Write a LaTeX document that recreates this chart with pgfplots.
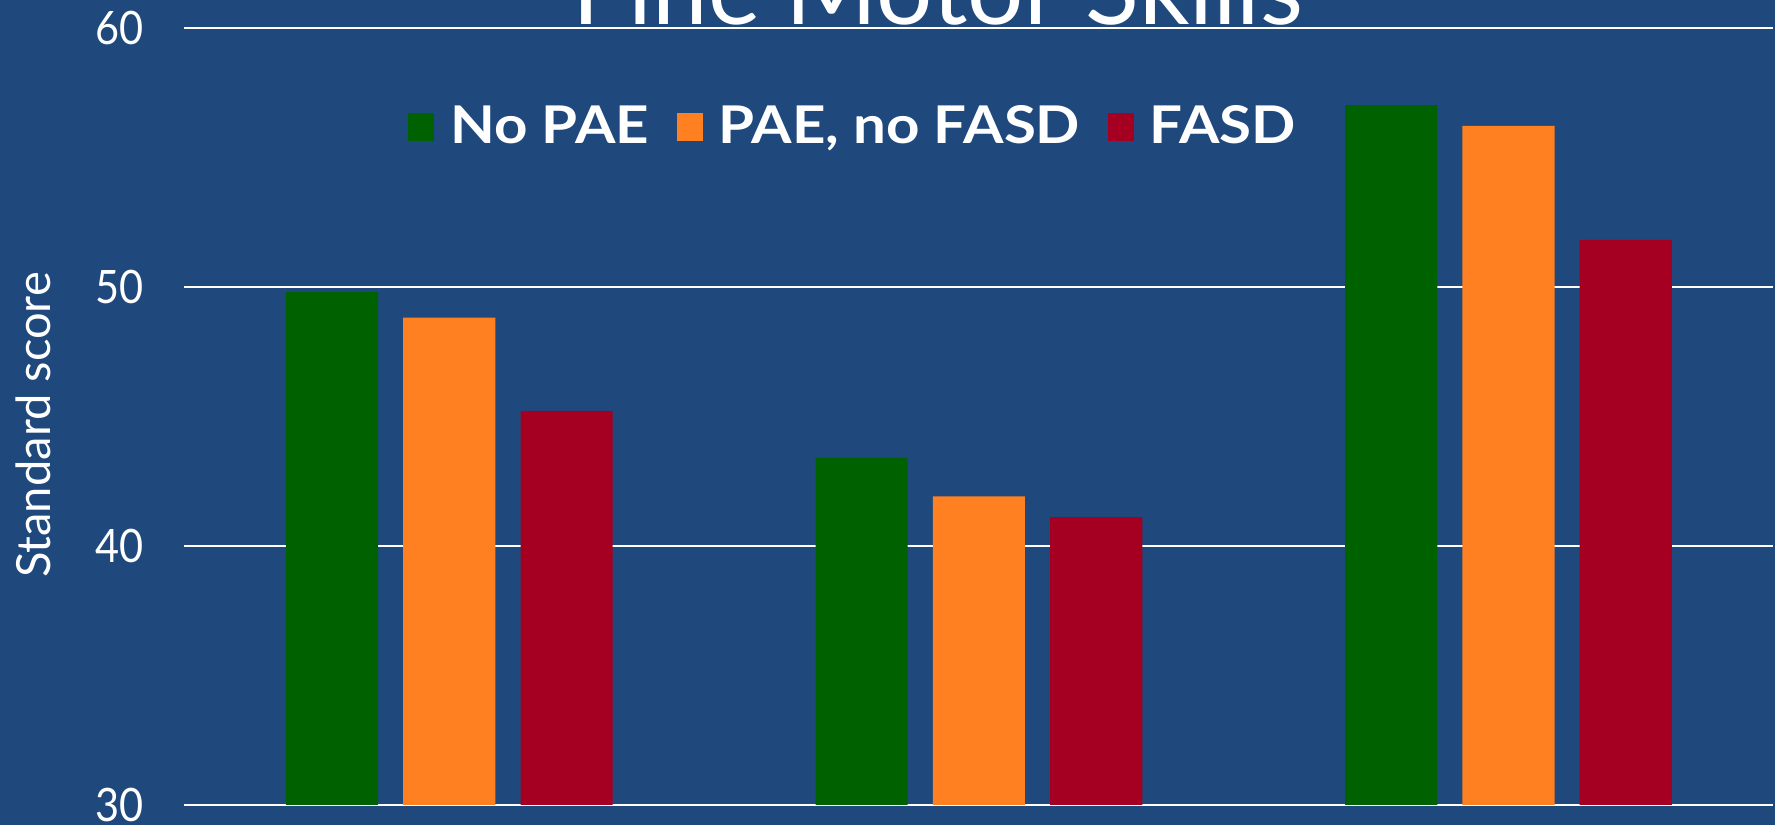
\documentclass[border=0pt]{standalone}
\usepackage{pgfplots}
\pgfplotsset{compat=1.18}
\usepackage{fontspec}
\setmainfont{Lato}
\newfontfamily\legfont[FakeStretch=1.12]{Lato}
\newfontfamily\tickfont[FakeStretch=0.9]{Lato}
\definecolor{bg}{HTML}{1F497D}
\definecolor{cgreen}{HTML}{006100}
\definecolor{corange}{HTML}{FF8021}
\definecolor{cred}{HTML}{A50021}
\begin{document}
\begin{tikzpicture}
\fill[bg] (-18.45mm,-2.02mm) rectangle (159.05mm,80.48mm);
\begin{axis}[
  at={(0,0)}, anchor=south west,
  scale only axis, width=158.88mm, height=77.73mm,
  xmin=-0.5, xmax=2.5, ymin=30, ymax=60,
  xtick=\empty, ytick={30,40,50,60},
  ymajorgrids, grid style={white, line width=0.2mm},
  axis line style={draw=none}, major tick length=0pt,
  /pgf/number format/assume math mode=true,
  yticklabel style={text=white, font=\tickfont\fontsize{13.1}{15}\selectfont, anchor=east, inner sep=0pt, xshift=-4.0mm},
  ylabel={Standard score},
  ylabel style={at={(axis description cs:-0.0843,0.4886)}, anchor=base, text=white, font=\fontsize{13.4}{16}\selectfont},
  title={Fine Motor Skills},
  every axis title shift=0pt,
  title style={at={(rel axis cs:0.4742,1.0045)}, anchor=base, yshift=0pt, text=white, font=\fontsize{28.3}{34}\selectfont},
  ybar, bar width=0.174,
  legend columns=3,
  legend style={at={(rel axis cs:0.1404,0.872)}, anchor=west, draw=none, fill=none, text=white,
    font=\legfont\bfseries\fontsize{14.8}{17}\selectfont, inner sep=0pt,
    column sep=0.9mm, /tikz/every even column/.append style={column sep=2.05mm}},
  legend image code/.code={\fill[#1] (0mm,-1.385mm) rectangle (2.6mm,1.385mm);},
]
\addplot[fill=cgreen, draw=none, bar shift=-0.2215] coordinates {(0,49.8) (1,43.4) (2,57.0)};
\addplot[fill=corange, draw=none, bar shift=0] coordinates {(0,48.8) (1,41.9) (2,56.2)};
\addplot[fill=cred, draw=none, bar shift=0.2215] coordinates {(0,45.2) (1,41.1) (2,51.8)};
\legend{No PAE, {PAE, no FASD}, FASD}
\end{axis}
\pgfresetboundingbox
\path[use as bounding box] (-18.45mm,-2.02mm) rectangle (159.05mm,80.48mm);
\end{tikzpicture}
\end{document}
